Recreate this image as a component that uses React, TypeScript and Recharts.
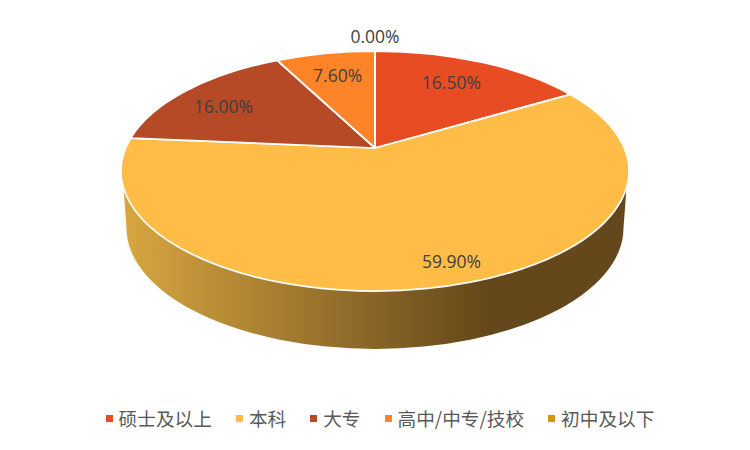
import { PieChart, Pie, Legend } from 'recharts';

const categories = ['硕士及以上', '本科', '大专', '高中/中专/技校', '初中及以下'];
const shares = [16.5, 59.9, 16.0, 7.6, 0.0];
const colors = ['#E84C22', '#FFBD47', '#B64926', '#FF8427', '#CC9900'];

// label placement on the tilted disc (1 = rim), nudged in px
const labelRadius = [0.73, 0.86, 0.76, 0.74, 1.19];
const labelNudgeX = [-4, 20, -6, 1, 0];
const labelNudgeY = [-1, -3, 3, 0, 0];

const chartData = categories.map((name, i) => ({
  name,
  value: shares[i],
  fill: colors[i],
}));

// tilt of the disc: the rim is an ellipse, the hub sits above its centre
const SQUASH = 120 / 254;
const HUB_SHIFT = 23 / 254;
const PERSPECTIVE = 0.1917;
const WALL_DROP = 57 / 254;
const WALL_NARROW = 248.5 / 254;
const WALL_FRONT_START = -18.9;
const WALL_FRONT_END = -161.1;

const RAD = Math.PI / 180;

function project(cx: number, cy: number, R: number, r: number, deg: number) {
  const u = r * Math.cos(deg * RAD);
  const v = r * Math.sin(deg * RAD);
  const d = 1 + PERSPECTIVE * v;
  const ry = R * SQUASH;
  const X = (R * Math.sqrt(1 - PERSPECTIVE * PERSPECTIVE) * u) / d;
  const Y = (ry * v + R * HUB_SHIFT) / d;
  return { x: cx + X, y: cy - Y, param: Math.atan2(Y / ry, X / R) };
}

function TopSlice(props: any) {
  const { cx, cy, outerRadius: R, startAngle, endAngle, fill } = props;
  const a = project(cx, cy, R, 1, startAngle);
  const b = project(cx, cy, R, 1, endAngle);
  const sweep = (a.param - b.param + Math.PI * 2) % (Math.PI * 2);
  const large = sweep > Math.PI ? 1 : 0;
  const d = `M${cx},${cy - R * HUB_SHIFT} L${a.x},${a.y} A${R},${R * SQUASH} 0 ${large} 1 ${b.x},${b.y} Z`;
  return <path d={d} fill={fill} stroke="#fff" strokeWidth={1.75} strokeLinejoin="round" />;
}

function WallSlice(props: any) {
  const { cx, cy, outerRadius: R, startAngle, endAngle } = props;
  const from = Math.min(startAngle, WALL_FRONT_START);
  const to = Math.max(endAngle, WALL_FRONT_END);
  if (from <= to) return <g />;
  const a = project(cx, cy, R, 1, from);
  const b = project(cx, cy, R, 1, to);
  const rx = R * WALL_NARROW;
  const ry = R * SQUASH * 1.008;
  const lowY = cy + R * WALL_DROP;
  const d = `M${a.x},${a.y} A${R},${R * SQUASH} 0 0 1 ${b.x},${b.y} L${cx - rx},${lowY} A${rx},${ry} 0 0 0 ${cx + rx},${lowY} Z`;
  return (
    <g>
      <defs>
        <linearGradient id="wallShade" gradientUnits="userSpaceOnUse" x1={cx - R} y1={0} x2={cx + R} y2={0}>
          <stop offset="0" stopColor="#D9A741" />
          <stop offset="0.72" stopColor="#64471A" />
          <stop offset="1" stopColor="#64471A" />
        </linearGradient>
      </defs>
      <path d={d} fill="url(#wallShade)" stroke="none" />
    </g>
  );
}

function SliceLabel(props: any) {
  const { cx, cy, outerRadius: R, midAngle, value, index } = props;
  const p = project(cx, cy, R, labelRadius[index], midAngle);
  return (
    <text
      x={p.x + labelNudgeX[index]}
      y={p.y + labelNudgeY[index]}
      textAnchor="middle"
      dominantBaseline="central"
      fill="#404040"
      fontSize={17.5}
      fontFamily='"Open Sans", "Noto Sans", sans-serif'
    >
      {`${Number(value).toFixed(2)}%`}
    </text>
  );
}

function LegendRow({ payload }: any) {
  // both pies report their sectors, keep one entry per category
  const items = categories.map((name) => (payload || []).find((e: any) => e.value === name)).filter(Boolean);
  return (
    <div
      style={{
        display: 'flex',
        justifyContent: 'center',
        gap: 24,
        paddingLeft: 10,
        fontFamily: '"Noto Sans CJK SC", sans-serif',
        fontSize: 18.67,
        lineHeight: '28px',
        color: '#595959',
        whiteSpace: 'nowrap',
      }}
    >
      {items.map((entry: any) => (
        <div key={entry.value} style={{ display: 'flex', alignItems: 'center', gap: 6 }}>
          <span style={{ width: 7, height: 7, background: entry.color, display: 'block' }} />
          <span>{entry.value}</span>
        </div>
      ))}
    </div>
  );
}

export default function App() {
  return (
    <div style={{ position: 'absolute', left: 0, top: 0, width: 750, height: 450, background: '#fff' }}>
      <PieChart width={750} height={450} margin={{ top: 0, right: 0, bottom: 0, left: 0 }}>
        <Pie
          data={chartData}
          dataKey="value"
          nameKey="name"
          cx={375}
          cy={171}
          outerRadius={254}
          startAngle={90}
          endAngle={-270}
          shape={WallSlice}
          legendType="none"
          label={false}
          labelLine={false}
          isAnimationActive={false}
        />
        <Pie
          data={chartData}
          dataKey="value"
          nameKey="name"
          cx={375}
          cy={171}
          outerRadius={254}
          startAngle={90}
          endAngle={-270}
          shape={TopSlice}
          label={SliceLabel}
          labelLine={false}
          isAnimationActive={false}
        />
        <Legend content={LegendRow} itemSorter={null} wrapperStyle={{ left: 0, top: 404, width: 750 }} />
      </PieChart>
    </div>
  );
}
